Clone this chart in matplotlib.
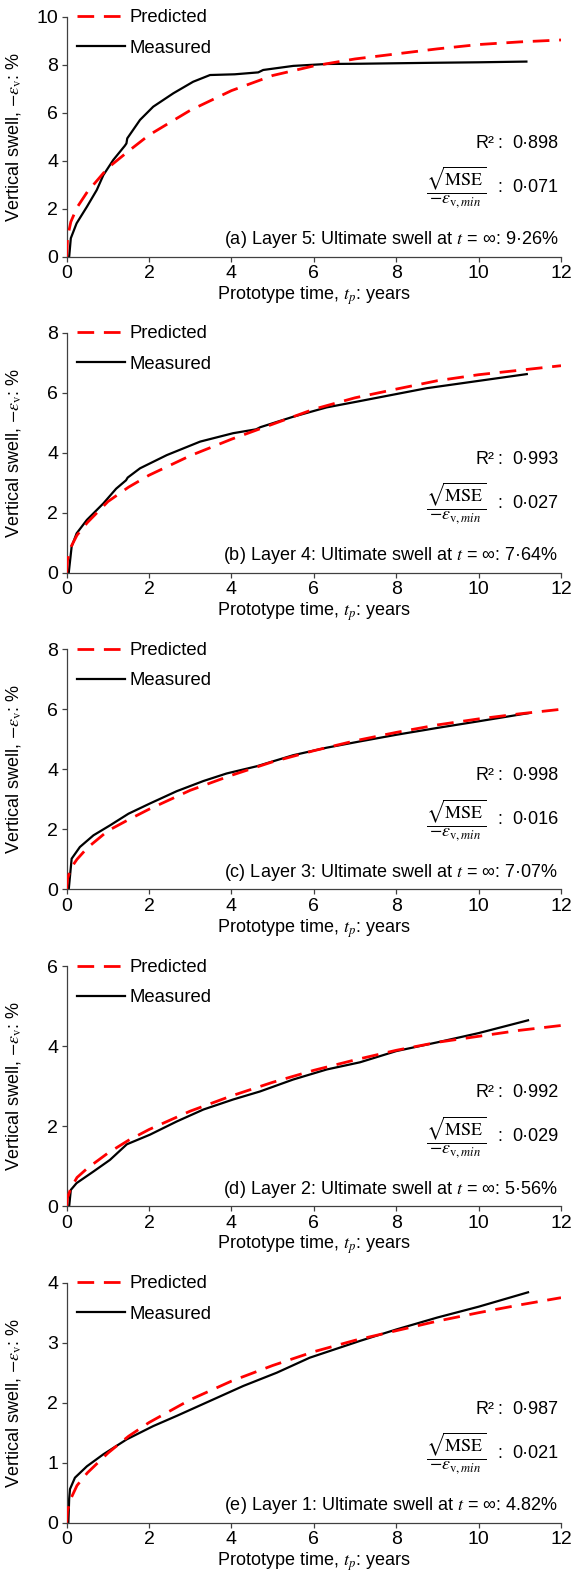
import numpy as np
import matplotlib
matplotlib.use('Agg')
import matplotlib.pyplot as plt

plt.rcParams['font.family'] = ['Liberation Sans', 'DejaVu Sans']
plt.rcParams['mathtext.fontset'] = 'stix'
plt.rcParams['font.size'] = 13

# predicted curves share one time grid (years)
pred_t = [0, 0.02, 0.1, 0.25, 0.5, 1, 1.5, 2, 3, 4, 5, 6, 7, 8, 9, 10, 11, 12]
pred_a = [0, 0.80, 1.45, 2.05, 2.70, 3.70, 4.40, 5.07, 6.10, 6.92, 7.55, 7.95, 8.24, 8.45, 8.66, 8.84, 8.95, 9.03]
pred_b = [0, 0.42, 0.85, 1.25, 1.67, 2.37, 2.85, 3.25, 3.90, 4.45, 4.95, 5.45, 5.83, 6.12, 6.40, 6.60, 6.75, 6.90]
pred_c = [0, 0.35, 0.70, 1.00, 1.38, 1.95, 2.32, 2.67, 3.30, 3.80, 4.25, 4.62, 4.95, 5.23, 5.48, 5.68, 5.85, 6.00]
pred_d = [0, 0.22, 0.45, 0.72, 0.95, 1.33, 1.65, 1.92, 2.38, 2.76, 3.10, 3.40, 3.66, 3.90, 4.10, 4.25, 4.40, 4.52]
pred_e = [0, 0.20, 0.40, 0.62, 0.83, 1.16, 1.44, 1.67, 2.05, 2.36, 2.62, 2.85, 3.04, 3.20, 3.36, 3.50, 3.63, 3.75]

# measured curves
meas_t_a = [0.06, 0.1, 0.24, 0.49, 0.73, 0.89, 1.13, 1.41, 1.45, 1.47, 1.78, 2.1, 2.59, 3.07, 3.48,
            4.08, 4.65, 4.77, 5.5, 6.31, 7.12, 8.9, 10, 11.16]
meas_a = [0, 0.77, 1.39, 2.08, 2.78, 3.40, 4.03, 4.62, 4.72, 4.93, 5.70, 6.25, 6.81, 7.29, 7.57,
          7.60, 7.68, 7.78, 7.95, 8.03, 8.04, 8.08, 8.10, 8.13]
meas_t_b = [0.05, 0.12, 0.24, 0.49, 0.89, 1.2, 1.44, 1.48, 1.78, 2.43, 3.24, 4.04, 4.6, 4.7, 5.5,
            6.31, 7.04, 8.74, 10.03, 11.17]
meas_b = [0, 0.87, 1.31, 1.76, 2.31, 2.80, 3.08, 3.17, 3.48, 3.92, 4.37, 4.65, 4.78, 4.85, 5.20,
          5.51, 5.70, 6.15, 6.40, 6.62]
meas_t_c = [0.05, 0.12, 0.32, 0.65, 1.05, 1.5, 2.02, 2.67, 3.32, 3.88, 4.61, 5.5, 6.31, 7.12, 8, 9, 10, 11.2]
meas_c = [0, 1.02, 1.41, 1.80, 2.13, 2.52, 2.86, 3.27, 3.61, 3.86, 4.10, 4.47, 4.72, 4.93, 5.15, 5.38, 5.60, 5.87]
meas_t_d = [0.06, 0.1, 0.24, 0.65, 1.05, 1.46, 2.02, 2.67, 3.32, 4.04, 4.69, 5.5, 6.31, 7.12, 8, 9, 10, 11.2]
meas_d = [0, 0.41, 0.58, 0.87, 1.16, 1.55, 1.79, 2.12, 2.42, 2.67, 2.87, 3.17, 3.42, 3.60, 3.88, 4.10, 4.33, 4.65]
meas_t_e = [0.04, 0.06, 0.08, 0.2, 0.49, 0.89, 1.46, 2.1, 2.67, 3.48, 4.29, 5.1, 5.9, 7.12, 8, 9, 10, 11.2]
meas_e = [0, 0.40, 0.56, 0.75, 0.94, 1.14, 1.39, 1.61, 1.78, 2.03, 2.28, 2.50, 2.75, 3.03, 3.22, 3.42, 3.60, 3.84]

r2_vals = ['0·898', '0·993', '0·998', '0·992', '0·987']
mse_vals = ['0·071', '0·027', '0·016', '0·029', '0·021']
captions = ['(a) Layer 5: Ultimate swell at $t$ = ∞: 9·26%',
            '(b) Layer 4: Ultimate swell at $t$ = ∞: 7·64%',
            '(c) Layer 3: Ultimate swell at $t$ = ∞: 7·07%',
            '(d) Layer 2: Ultimate swell at $t$ = ∞: 5·56%',
            '(e) Layer 1: Ultimate swell at $t$ = ∞: 4.82%']
ymax = [10, 8, 8, 6, 4]
ystep = [2, 2, 2, 2, 1]

preds = [pred_a, pred_b, pred_c, pred_d, pred_e]
meas_t = [meas_t_a, meas_t_b, meas_t_c, meas_t_d, meas_t_e]
meas = [meas_a, meas_b, meas_c, meas_d, meas_e]

W, H = 571, 1585
fig = plt.figure(figsize=(W / 100, H / 100), dpi=100)
tops = [16.7, 332.7, 649.3, 966.3, 1282.7]
axh = 240
left, right = 66.7, 561
axis_col = '#404040'

for ii in range(5):
    ax = fig.add_axes([left / W, 1 - (tops[ii] + axh) / H, (right - left) / W, axh / H])
    lm, = ax.plot(meas_t[ii], meas[ii], color='black', lw=1.6, zorder=2)
    lp, = ax.plot(pred_t, preds[ii], color='#ff0000', lw=2.0, dashes=(6, 3.5), zorder=3)
    ax.set_xlim(0, 12)
    ax.set_ylim(0, ymax[ii])
    ax.set_xticks(np.arange(0, 13, 2))
    ax.set_yticks(np.arange(0, ymax[ii] + 0.01, ystep[ii]))
    for s in ['top', 'right']:
        ax.spines[s].set_visible(False)
    for s in ['left', 'bottom']:
        ax.spines[s].set_color(axis_col)
        ax.spines[s].set_linewidth(0.9)
    ax.tick_params(direction='out', length=3.5, width=0.9, color=axis_col, labelsize=14, pad=2.5)
    ax.set_xlabel('Prototype time, $t_p$: years', fontsize=13)
    ax.set_ylabel('Vertical swell, $-\\varepsilon_{\\mathrm{v}}$: %', fontsize=13)
    ax.xaxis.set_label_coords(0.5, -0.115)
    ax.yaxis.set_label_coords(-0.088, 0.5)

    ax.legend([lp, lm], ['Predicted', 'Measured'], loc='upper left', bbox_to_anchor=(0.021, 1.03),
              frameon=False, handlelength=2.6, handletextpad=0.22, labelspacing=0.72,
              borderpad=0, borderaxespad=0, fontsize=13.3)

    ax.text(0.866, 0.4725, 'R²', transform=ax.transAxes, ha='right', va='center')
    ax.text(0.871, 0.4725, ':', transform=ax.transAxes, ha='left', va='center')
    ax.text(0.902, 0.4725, r2_vals[ii], transform=ax.transAxes, ha='left', va='center')
    ax.text(0.848, 0.29, r'$\dfrac{\sqrt{\mathrm{MSE}}}{-\varepsilon_{\mathrm{v},min}}$',
            transform=ax.transAxes, ha='right', va='center', fontsize=13)
    ax.text(0.871, 0.29, ':', transform=ax.transAxes, ha='left', va='center')
    ax.text(0.902, 0.29, mse_vals[ii], transform=ax.transAxes, ha='left', va='center')
    ax.text(0.994, 0.072, captions[ii], transform=ax.transAxes, ha='right', va='center')

plt.savefig('out.png', dpi=100)
